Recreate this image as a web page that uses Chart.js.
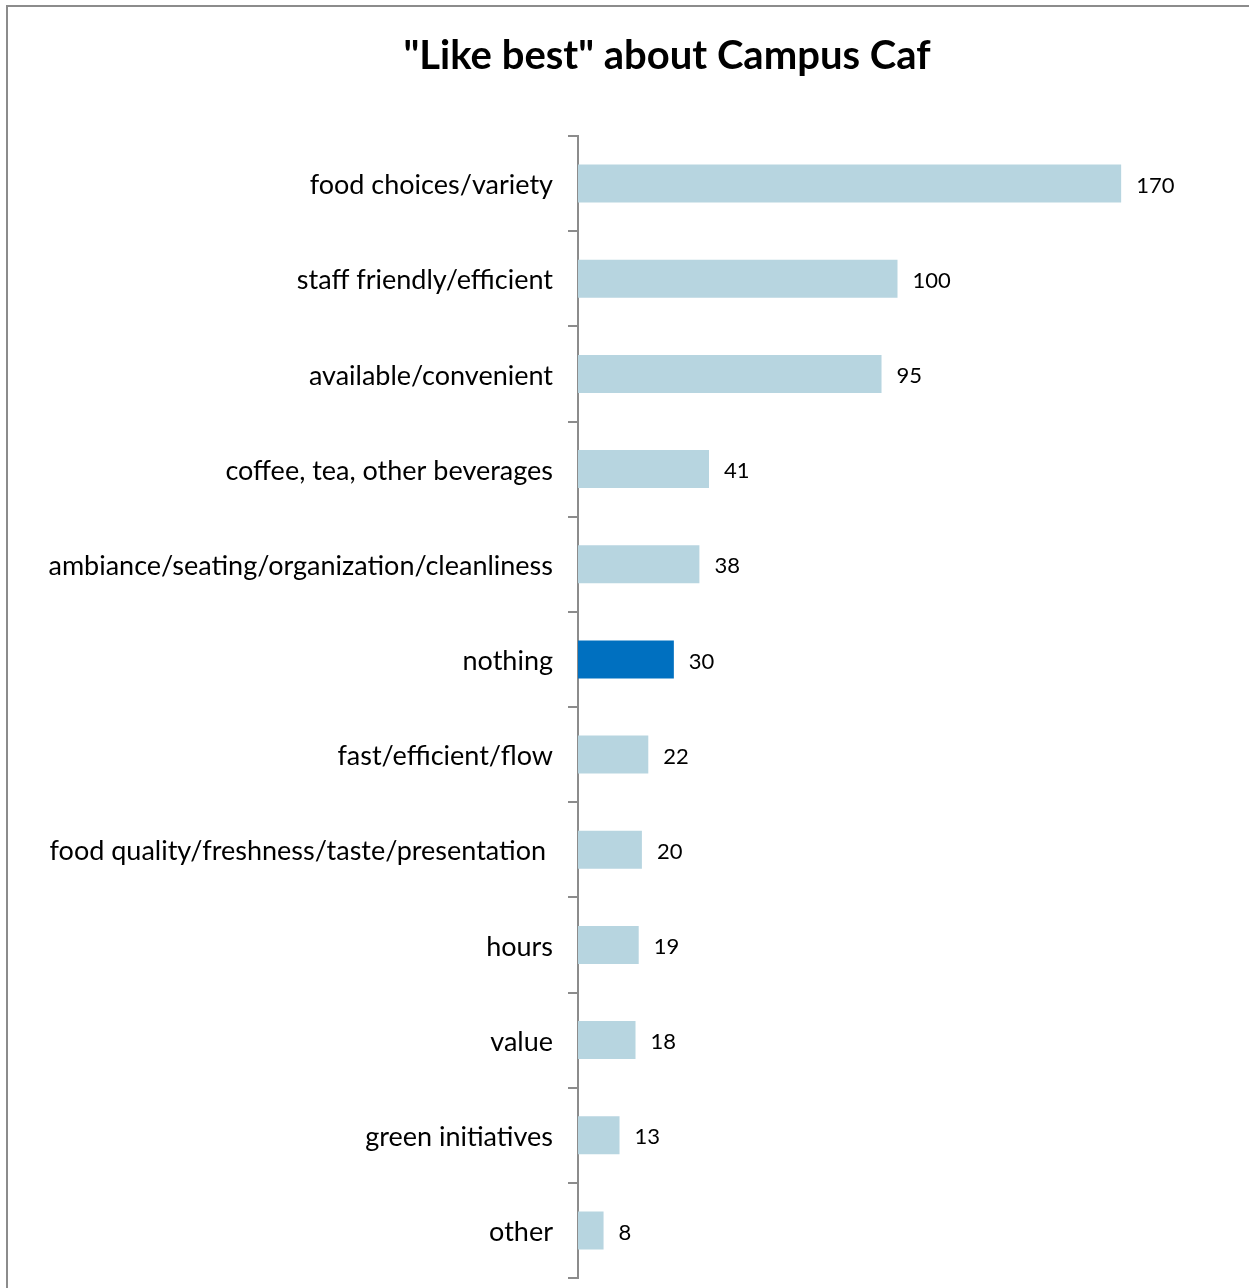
<!DOCTYPE html>
<html>
<head>
<meta charset="utf-8">
<script src="https://cdn.jsdelivr.net/npm/chart.js@4"></script>
<style>
  html, body { margin: 0; padding: 0; background: #fff; }
  canvas { display: block; }
</style>
</head>
<body>
<canvas id="myChart" width="1249" height="1288"></canvas>
<script>
const chartTitle = '"Like best" about Campus Caf'
const categories = [
  'food choices/variety',
  'staff friendly/efficient',
  'available/convenient',
  'coffee, tea, other beverages',
  'ambiance/seating/organization/cleanliness',
  'nothing',
  'fast/efficient/flow',
  'food quality/freshness/taste/presentation ',
  'hours',
  'value',
  'green initiatives',
  'other'
]
const counts = [170, 100, 95, 41, 38, 30, 22, 20, 19, 18, 13, 8]
const highlight = 'nothing'

const lightBlue = '#B7D5E0'
const darkBlue = '#0070C0'
const axisGray = '#8C8C8C'
const fontFamily = 'Lato, "Open Sans", sans-serif'

// white background, frame (only top and left edges show) and the heading
const framePlugin = {
  id: 'frame',
  beforeDraw (chart) {
    const ctx = chart.ctx
    ctx.save()
    ctx.fillStyle = '#FFFFFF'
    ctx.fillRect(0, 0, chart.width, chart.height)
    ctx.strokeStyle = axisGray
    ctx.lineWidth = 2
    ctx.beginPath()
    ctx.moveTo(7, chart.height)
    ctx.lineTo(7, 6)
    ctx.lineTo(chart.width, 6)
    ctx.stroke()
    // heading sits off-centre, over the middle of the plot + labels
    ctx.fillStyle = '#000000'
    ctx.font = 'bold 40px ' + fontFamily
    ctx.textAlign = 'center'
    ctx.textBaseline = 'middle'
    ctx.fillText(chartTitle, 667, 56)
    ctx.restore()
  }
}

// value printed just past the end of each bar
const valueLabels = {
  id: 'valueLabels',
  afterDatasetsDraw (chart) {
    const ctx = chart.ctx
    const meta = chart.getDatasetMeta(0)
    ctx.save()
    ctx.fillStyle = '#000000'
    ctx.font = '22px ' + fontFamily
    ctx.textAlign = 'left'
    ctx.textBaseline = 'middle'
    meta.data.forEach((bar, i) => {
      ctx.fillText(String(counts[i]), bar.x + 15, bar.y + 2)
    })
    ctx.restore()
  }
}

const myChart = new Chart(document.getElementById('myChart'), {
  type: 'bar',
  data: {
    labels: categories,
    datasets: [{
      data: counts,
      backgroundColor: categories.map(c => c === highlight ? darkBlue : lightBlue),
      borderWidth: 0,
      categoryPercentage: 1,
      barPercentage: 0.4
    }]
  },
  options: {
    indexAxis: 'y',
    responsive: false,
    animation: false,
    layout: {
      padding: { top: 136, left: 10, right: 32, bottom: 10 }
    },
    plugins: {
      legend: { display: false },
      tooltip: { enabled: false },
      title: { display: false }
    },
    scales: {
      x: {
        display: false,
        min: 0,
        max: 200
      },
      y: {
        afterFit (scale) {
          scale.width = 568
          scale.paddingTop = 0
          scale.paddingBottom = 0
        },
        border: { display: true, color: axisGray, width: 2 },
        grid: {
          offset: true,
          drawOnChartArea: false,
          drawTicks: true,
          tickLength: 10,
          color: axisGray,
          lineWidth: 2
        },
        ticks: {
          color: '#000000',
          padding: 15,
          labelOffset: 2,
          font: { family: fontFamily, size: 27 }
        }
      }
    }
  },
  plugins: [framePlugin, valueLabels]
})
</script>
</body>
</html>
